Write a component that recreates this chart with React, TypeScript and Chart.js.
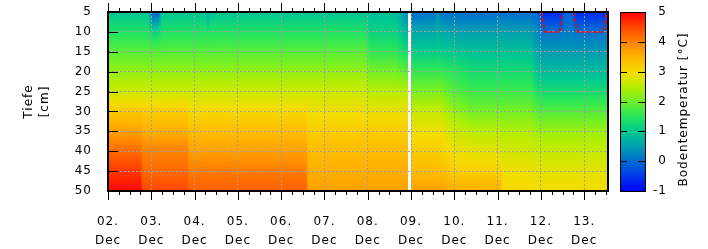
import React, { useEffect, useRef } from 'react';
import { Chart, registerables } from 'chart.js';

Chart.register(...registerables);

// ---- data ----
const dayLabels = ['02.', '03.', '04.', '05.', '06.', '07.', '08.', '09.', '10.', '11.', '12.', '13.'];
const monthLabel = 'Dec';
const depthTicks = [5, 10, 15, 20, 25, 30, 35, 40, 45, 50];
const colorbarTicks = [-1, 0, 1, 2, 3, 4, 5];
const yAxisTitle = ['Tiefe', '[cm]'];
const colorbarTitle = 'Bodentemperatur [°C]';

// sensor depths (cm)
const depths = [5, 10, 15, 20, 25, 30, 35, 40, 45, 50];
// sample times, days since 02 Dec 00:00
const times = [0.00, 0.76, 0.80, 0.93, 1.02, 1.16, 1.25, 1.83, 1.87, 2.26, 2.31, 2.36, 3.00, 4.58, 4.62, 5.95, 6.05, 6.65, 6.85, 6.92, 6.95, 7.00, 7.55, 7.62, 7.68, 7.95, 8.40, 9.07, 9.11, 9.75, 9.95, 10.03, 10.45, 10.55, 10.72, 10.82, 11.45, 11.55];

// temperatures (°C) per depth, aligned with times (null = no data)
const temp05 = [0.95, 0.95, 0.95, 0.95, -0.15, -0.15, 0.95, 0.95, 0.95, 0.95, 0.45, 0.95, 0.95, 0.95, 0.95, 0.95, 0.9, 0.85, 0.4, 0.3, null, -0.05, 0.05, 0.45, 0.05, 0.0, 0.0, 0.0, 0.0, 0.0, -0.1, -0.65, -0.65, -0.15, -0.15, -0.65, -0.65, -0.55];
const temp10 = [1.4, 1.4, 1.4, 1.4, 1.15, 1.15, 1.4, 1.4, 1.4, 1.4, 1.35, 1.4, 1.4, 1.4, 1.4, 1.4, 1.15, 1.15, 0.8, 0.75, null, 0.6, 0.6, 0.75, 0.6, 0.55, 0.5, 0.5, 0.5, 0.5, 0.2, 0.05, 0.05, 0.15, 0.15, 0.05, 0.05, 0.05];
const temp15 = [1.85, 1.85, 1.85, 1.85, 1.85, 1.85, 1.85, 1.85, 1.85, 1.85, 1.85, 1.85, 1.85, 1.85, 1.85, 1.85, 1.55, 1.55, 1.3, 1.3, null, 1.05, 1.05, 1.1, 1.05, 1.0, 0.9, 0.9, 0.9, 0.9, 0.5, 0.45, 0.45, 0.45, 0.45, 0.45, 0.45, 0.45];
const temp20 = [2.25, 2.25, 2.25, 2.25, 2.25, 2.25, 2.25, 2.25, 2.25, 2.25, 2.25, 2.25, 2.25, 2.25, 2.25, 2.25, 2.05, 2.05, 1.9, 1.9, null, 1.6, 1.6, 1.6, 1.6, 1.5, 1.3, 1.3, 1.3, 1.3, 0.9, 0.85, 0.85, 0.85, 0.85, 0.85, 0.85, 0.85];
const temp25 = [2.65, 2.65, 2.65, 2.65, 2.65, 2.65, 2.65, 2.65, 2.65, 2.65, 2.65, 2.65, 2.65, 2.65, 2.65, 2.65, 2.5, 2.5, 2.5, 2.5, null, 2.1, 2.1, 2.1, 2.1, 1.85, 1.65, 1.65, 1.65, 1.65, 1.35, 1.3, 1.3, 1.3, 1.3, 1.3, 1.3, 1.3];
const temp30 = [3.25, 3.25, 3.2, 3.2, 3.2, 3.2, 3.2, 3.2, 3.05, 3.05, 3.05, 3.05, 3.05, 3.05, 2.95, 2.95, 2.9, 2.9, 2.9, 2.9, null, 2.6, 2.6, 2.6, 2.6, 2.3, 2.05, 2.05, 2.05, 2.05, 1.85, 1.8, 1.8, 1.8, 1.8, 1.8, 1.8, 1.8];
const temp35 = [3.7, 3.7, 3.55, 3.55, 3.55, 3.55, 3.55, 3.55, 3.4, 3.4, 3.4, 3.4, 3.4, 3.4, 3.2, 3.2, 3.2, 3.2, 3.2, 3.2, null, 2.95, 2.95, 2.95, 2.95, 2.7, 2.5, 2.5, 2.45, 2.45, 2.3, 2.3, 2.3, 2.3, 2.3, 2.3, 2.3, 2.3];
const temp40 = [4.2, 4.2, 4.0, 4.0, 4.0, 4.0, 4.0, 4.0, 3.7, 3.7, 3.7, 3.7, 3.7, 3.7, 3.4, 3.4, 3.4, 3.4, 3.4, 3.4, null, 3.2, 3.2, 3.2, 3.2, 2.95, 2.85, 2.85, 2.7, 2.7, 2.6, 2.6, 2.6, 2.6, 2.6, 2.6, 2.6, 2.6];
const temp45 = [4.6, 4.6, 4.2, 4.2, 4.2, 4.2, 4.2, 4.2, 4.05, 4.05, 4.05, 4.05, 4.05, 4.05, 3.55, 3.55, 3.55, 3.55, 3.55, 3.55, null, 3.4, 3.4, 3.4, 3.4, 3.2, 3.15, 3.15, 2.95, 2.95, 2.85, 2.85, 2.85, 2.85, 2.85, 2.85, 2.85, 2.85];
const temp50 = [4.95, 4.95, 4.5, 4.5, 4.5, 4.5, 4.5, 4.5, 4.3, 4.3, 4.3, 4.3, 4.3, 4.3, 3.7, 3.7, 3.7, 3.7, 3.7, 3.7, null, 3.7, 3.7, 3.7, 3.7, 3.6, 3.55, 3.55, 3.05, 3.05, 3.0, 3.0, 3.0, 3.0, 3.0, 3.0, 3.0, 3.0];

// 0 °C contour (frozen layer) segments
const freeze1Time = [10.02, 10.09, 10.44, 10.5];
const freeze1Depth = [5, 10, 10, 5];
const freeze2Time = [10.76, 10.84, 11.44, 11.52];
const freeze2Depth = [5, 10, 10, 5];

const X_MIN = 0;
const X_MAX = 11.55;
const T_MIN = -1;
const T_MAX = 5;

// ---- styling ----
const FONT = 'DejaVu Sans';
const COLOR_STOPS: [number, number[]][] = [
  [-1, [0, 0, 255]],
  [-0.5, [0, 55, 235]],
  [0, [0, 110, 210]],
  [0.5, [0, 160, 175]],
  [1, [0, 200, 145]],
  [1.5, [40, 230, 90]],
  [2, [110, 240, 40]],
  [2.5, [185, 238, 0]],
  [3, [245, 220, 0]],
  [3.5, [255, 180, 0]],
  [4, [255, 130, 0]],
  [4.5, [255, 70, 0]],
  [5, [255, 0, 0]],
];

function colorFor(v: number): number[] {
  if (v <= COLOR_STOPS[0][0]) return COLOR_STOPS[0][1];
  for (let i = 0; i < COLOR_STOPS.length - 1; i++) {
    const [v0, c0] = COLOR_STOPS[i];
    const [v1, c1] = COLOR_STOPS[i + 1];
    if (v <= v1) {
      const f = (v - v0) / (v1 - v0);
      return [c0[0] + (c1[0] - c0[0]) * f, c0[1] + (c1[1] - c0[1]) * f, c0[2] + (c1[2] - c0[2]) * f];
    }
  }
  return COLOR_STOPS[COLOR_STOPS.length - 1][1];
}

const rows = [temp05, temp10, temp15, temp20, temp25, temp30, temp35, temp40, temp45, temp50];

const heatmapPlugin = {
  id: 'heatmap',
  beforeDraw(chart: any) {
    const ctx = chart.ctx;
    ctx.letterSpacing = '1px';
    const a = chart.chartArea;
    const xs = chart.scales.x;
    const ys = chart.scales.y;
    const left = Math.round(a.left);
    const top = Math.round(a.top);
    const w = Math.round(a.right) - left;
    const h = Math.round(a.bottom) - top;
    const img = ctx.createImageData(w, h);
    const data = img.data;
    const col = new Array(depths.length).fill(0);
    for (let px = 0; px < w; px++) {
      const t = xs.getValueForPixel(left + px + 0.5);
      let i = 0;
      while (i < times.length - 2 && t > times[i + 1]) i++;
      const f = Math.min(1, Math.max(0, (t - times[i]) / (times[i + 1] - times[i])));
      let gap = false;
      for (let k = 0; k < depths.length; k++) {
        const a0 = rows[k][i];
        const a1 = rows[k][i + 1];
        if (a0 == null || a1 == null) { gap = true; break; }
        col[k] = a0 + (a1 - a0) * f;
      }
      for (let py = 0; py < h; py++) {
        const idx = (py * w + px) * 4;
        if (gap) {
          data[idx] = 255; data[idx + 1] = 255; data[idx + 2] = 255; data[idx + 3] = 255;
          continue;
        }
        const d = ys.getValueForPixel(top + py + 0.5);
        let j = 0;
        while (j < depths.length - 2 && d > depths[j + 1]) j++;
        const g = Math.min(1, Math.max(0, (d - depths[j]) / (depths[j + 1] - depths[j])));
        const v = col[j] + (col[j + 1] - col[j]) * g;
        const c = colorFor(v);
        data[idx] = c[0]; data[idx + 1] = c[1]; data[idx + 2] = c[2]; data[idx + 3] = 255;
      }
    }
    ctx.putImageData(img, left, top);
  },
};

const framePlugin = {
  id: 'frame',
  afterDraw(chart: any) {
    const ctx = chart.ctx;
    const a = chart.chartArea;
    const xs = chart.scales.x;
    const ys = chart.scales.y;
    ctx.save();
    ctx.strokeStyle = '#000';
    ctx.lineWidth = 1;
    ctx.beginPath();
    for (let k = 0; k * 0.25 <= X_MAX + 1e-9; k++) {
      const v = X_MIN + k * 0.25;
      const px = Math.round(xs.getPixelForValue(v)) + 0.5;
      const len = k % 4 === 0 ? 9 : 4;
      ctx.moveTo(px, a.top - len);
      ctx.lineTo(px, a.top);
      ctx.moveTo(px, a.bottom);
      ctx.lineTo(px, a.bottom + len);
    }
    depthTicks.forEach((d) => {
      const py = Math.round(ys.getPixelForValue(d)) + 0.5;
      ctx.moveTo(a.left, py);
      ctx.lineTo(a.left + 10, py);
    });
    ctx.stroke();
    ctx.lineWidth = 2;
    ctx.strokeRect(Math.round(a.left), Math.round(a.top), Math.round(a.right - a.left), Math.round(a.bottom - a.top));

    // colorbar
    const cbL = Math.round(a.right) + 12;
    const cbW = 25;
    const cbTop = Math.round(a.top);
    const cbBot = Math.round(a.bottom);
    const cbPix = (v: number) => cbBot - ((v - T_MIN) / (T_MAX - T_MIN)) * (cbBot - cbTop);
    for (let py = cbTop; py < cbBot; py++) {
      const v = T_MAX - ((py + 0.5 - cbTop) / (cbBot - cbTop)) * (T_MAX - T_MIN);
      const c = colorFor(v);
      ctx.fillStyle = `rgb(${c[0] | 0},${c[1] | 0},${c[2] | 0})`;
      ctx.fillRect(cbL, py, cbW, 1);
    }
    ctx.lineWidth = 1;
    ctx.strokeRect(cbL + 0.5, cbTop + 0.5, cbW, cbBot - cbTop);
    ctx.beginPath();
    colorbarTicks.forEach((v) => {
      const py = Math.round(cbPix(v)) + 0.5;
      ctx.moveTo(cbL, py);
      ctx.lineTo(cbL + 7, py);
      ctx.moveTo(cbL + cbW, py);
      ctx.lineTo(cbL + cbW - 7, py);
    });
    ctx.stroke();
    ctx.fillStyle = '#000';
    ctx.font = `12px "${FONT}"`;
    ctx.letterSpacing = '1px';
    ctx.textAlign = 'right';
    ctx.textBaseline = 'middle';
    colorbarTicks.forEach((v) => {
      ctx.fillText(String(v), cbL + cbW + 22, cbPix(v));
    });
    ctx.translate(cbL + cbW + 39, (cbTop + cbBot) / 2 + 8);
    ctx.rotate(-Math.PI / 2);
    ctx.textAlign = 'center';
    ctx.fillText(colorbarTitle, 0, 0);
    ctx.restore();
  },
};

export default function App() {
  const ref = useRef<HTMLCanvasElement | null>(null);
  useEffect(() => {
    if (!ref.current) return;
    const tickFont = { family: FONT, size: 12, lineHeight: 1.6 };
    const chart = new Chart(ref.current, {
      type: 'line',
      data: {
        datasets: [
          {
            data: freeze1Time.map((t, i) => ({ x: t, y: freeze1Depth[i] })),
            borderColor: '#ff0000',
            borderWidth: 1.5,
            borderDash: [4, 2],
            pointRadius: 0,
            fill: false,
            tension: 0,
          },
          {
            data: freeze2Time.map((t, i) => ({ x: t, y: freeze2Depth[i] })),
            borderColor: '#ff0000',
            borderWidth: 1.5,
            borderDash: [4, 2],
            pointRadius: 0,
            fill: false,
            tension: 0,
          },
        ],
      },
      options: {
        animation: false,
        responsive: false,
        events: [],
        layout: { padding: { top: 12, right: 100, left: 0, bottom: 0 } },
        plugins: { legend: { display: false }, tooltip: { enabled: false } },
        scales: {
          x: {
            type: 'linear',
            min: X_MIN,
            max: X_MAX,
            afterFit: (s: any) => { s.height = 58; s.paddingLeft = 0; s.paddingRight = 0; },
            afterBuildTicks: (s: any) => { s.ticks = dayLabels.map((_, i) => ({ value: X_MIN + i })); },
            ticks: {
              autoSkip: false,
              maxRotation: 0,
              padding: 21,
              color: '#000',
              font: tickFont,
              callback: (v: any) => [dayLabels[Math.round(Number(v) - X_MIN)], monthLabel],
            },
            grid: { color: '#a0a0a0', lineWidth: 1, drawTicks: false },
            border: { display: false, dash: [2, 2] },
          },
          y: {
            type: 'linear',
            reverse: true,
            min: 5,
            max: 50,
            afterFit: (s: any) => { s.width = 108; s.paddingTop = 0; s.paddingBottom = 0; },
            afterBuildTicks: (s: any) => { s.ticks = depthTicks.map((v) => ({ value: v })); },
            ticks: {
              padding: 16,
              color: '#000',
              font: { family: FONT, size: 12 },
              callback: (v: any) => String(v),
            },
            grid: { color: '#a0a0a0', lineWidth: 1, drawTicks: false },
            border: { display: false, dash: [2, 2] },
            title: {
              display: true,
              text: yAxisTitle,
              color: '#000',
              font: { family: FONT, size: 12, lineHeight: 1.3 },
              padding: { top: 21, bottom: 0 },
            },
          },
        },
      } as any,
      plugins: [heatmapPlugin, framePlugin],
    });
    return () => chart.destroy();
  }, []);
  return (
    <div style={{ position: 'absolute', left: 0, top: 0, width: 708, height: 249 }}>
      <canvas ref={ref} width={708} height={249} style={{ display: 'block' }} />
    </div>
  );
}
